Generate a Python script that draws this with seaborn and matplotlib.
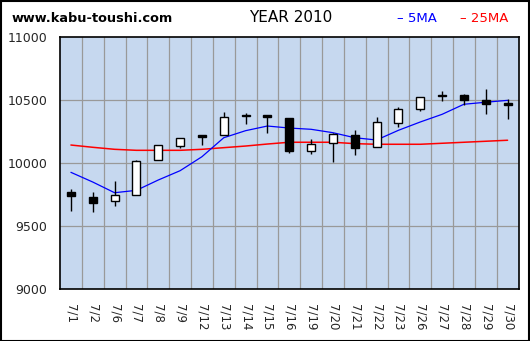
import matplotlib
matplotlib.use("Agg")
import matplotlib.pyplot as plt
from matplotlib.patches import Rectangle
import numpy as np
import pandas as pd
import seaborn as sns

# Daily prices, July 2010
dates = ["7/1", "7/2", "7/6", "7/7", "7/8", "7/9", "7/12", "7/13", "7/14", "7/15",
         "7/16", "7/19", "7/20", "7/21", "7/22", "7/23", "7/26", "7/27", "7/28", "7/29", "7/30"]
opens = [9773, 9731, 9697, 9745, 10023, 10139, 10222, 10221, 10381, 10376,
         10359, 10099, 10158, 10224, 10126, 10321, 10428, 10537, 10542, 10499, 10473]
highs = [9795, 9773, 9858, 10023, 10144, 10200, 10226, 10404, 10398, 10385,
         10359, 10190, 10240, 10263, 10367, 10446, 10523, 10576, 10549, 10589, 10507]
lows = [9622, 9614, 9660, 9745, 10023, 10123, 10147, 10221, 10309, 10242,
        10083, 10075, 10012, 10067, 10126, 10290, 10417, 10496, 10462, 10393, 10353]
closes = [9737, 9686, 9745, 10015, 10144, 10200, 10211, 10364, 10379, 10374,
          10099, 10152, 10232, 10123, 10325, 10428, 10523, 10535, 10504, 10472, 10471]
ma5 = [9927, 9850, 9765, 9784, 9866, 9940, 10051, 10202, 10258, 10295,
       10279, 10269, 10242, 10202, 10184, 10261, 10327, 10388, 10468, 10484, 10499]
ma25 = [10144, 10126, 10110, 10102, 10102, 10102, 10110, 10123, 10136, 10152,
        10166, 10166, 10166, 10155, 10150, 10150, 10150, 10158, 10166, 10174, 10182]
yticks = [9000, 9500, 10000, 10500, 11000]

sns.set_theme(style="white")
plt.rcParams["font.family"] = ["DejaVu Sans"]

W, H = 530, 341
fig = plt.figure(figsize=(W / 100, H / 100), dpi=100)
fig.patch.set_facecolor("white")
ax = fig.add_axes([60 / W, 1 - 289 / H, (518.5 - 60) / W, (289 - 37.3) / H])
ax.set_facecolor("#C6D8EF")

n = len(dates)
x = np.arange(n)
df = pd.DataFrame({"x": x, "ma5": ma5, "ma25": ma25})

# grid
for gx in np.arange(n - 1) + 0.5:
    ax.axvline(gx, color="#999999", lw=0.9, zorder=0)
for gy in yticks[1:-1]:
    ax.axhline(gy, color="#999999", lw=0.9, zorder=0)

# moving averages
sns.lineplot(data=df, x="x", y="ma25", color="#FF0000", lw=1.1, ax=ax, zorder=2)
sns.lineplot(data=df, x="x", y="ma5", color="#0000FF", lw=0.9, ax=ax, zorder=2)

# candlesticks
bw = 0.36
for i in range(n):
    o, h, l, c = opens[i], highs[i], lows[i], closes[i]
    ax.vlines(i, l, h, color="black", lw=1.0, zorder=3)
    lo, hi = min(o, c), max(o, c)
    hgt = max(hi - lo, 12)
    face = "white" if c > o else "black"
    if abs(c - o) < 12:
        face = "black"
        lo = (o + c) / 2 - 6
    ax.add_patch(Rectangle((i - bw / 2, lo), bw, hgt, facecolor=face,
                           edgecolor="black", lw=1.0, zorder=4))

ax.set_xlim(-0.5, n - 0.5)
ax.set_ylim(9000, 11000)
ax.set_yticks(yticks)
ax.set_yticklabels([str(v) for v in yticks], fontsize=9)
ax.set_xticks(x)
ax.set_xticklabels(dates, rotation=270, fontsize=8.5)
ax.tick_params(axis="x", length=0, pad=11)
ax.tick_params(axis="y", length=0, pad=9)
ax.set_xlabel("")
ax.set_ylabel("")
for s in ax.spines.values():
    s.set_visible(True)
    s.set_color("black")
    s.set_linewidth(1.2)

# header texts
fig.text(12 / W, 1 - 19 / H, "www.kabu-toushi.com", fontsize=9.3, fontweight="bold",
         va="center", ha="left", color="black")
fig.text(291 / W, 1 - 18 / H, "YEAR 2010", fontsize=11, va="center", ha="center", color="black")
fig.text(397 / W, 1 - 18 / H, "– 5MA", fontsize=9.5, va="center", ha="left", color="#0000FF")
fig.text(460 / W, 1 - 18 / H, "– 25MA", fontsize=9.5, va="center", ha="left", color="#FF0000")

# outer frame
fig.add_artist(Rectangle((0.5 / W, 0.5 / H), (W - 1.5) / W, (H - 1.5) / H, transform=fig.transFigure,
                         fill=False, edgecolor="black", lw=1.5))

fig.savefig("out.png", dpi=100)
